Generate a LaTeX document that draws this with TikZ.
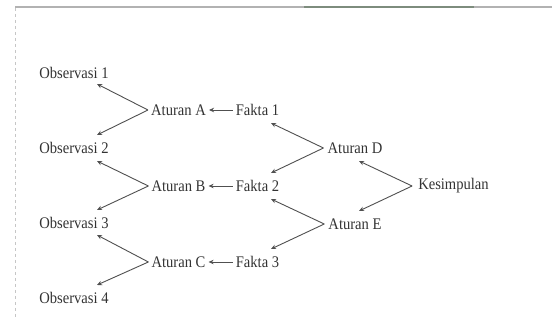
\documentclass[tikz,border=0pt]{standalone}
\usepackage{fontspec}
\setmainfont{Liberation Serif}
\newfontfamily\lblfont[FakeStretch=0.9]{Liberation Serif}
\usetikzlibrary{arrows.meta,calc}
\definecolor{ink}{HTML}{333333}
\definecolor{wire}{HTML}{505050}
\begin{document}
\begin{tikzpicture}[x=1pt,y=-1pt,
  lbl/.style={inner sep=3pt,text=ink,font=\lblfont\fontsize{16.2}{19}\selectfont},
  arr/.style={draw=wire,line width=0.9pt,-{Stealth[length=5pt,width=4.5pt]}}]
\useasboundingbox (0,0) rectangle (552,320);
\fill[white] (0,0) rectangle (552,320);
% screenshot frame
\draw[gray!60,line width=1.6pt] (15,7) -- (552,7);
\draw[color={rgb,255:red,125;green,140;blue,125},line width=1.8pt] (304,7) -- (474,7);
\draw[gray!45,dashed,line width=0.6pt] (15,8) -- (15,320);
% nodes
\node[lbl] (o1) at (74,73) {Observasi 1};
\node[lbl] (o2) at (74,148) {Observasi 2};
\node[lbl] (o3) at (74,223) {Observasi 3};
\node[lbl] (o4) at (74,298) {Observasi 4};
\node[lbl] (ra) at (178.5,110) {Aturan A};
\node[lbl] (rb) at (178.5,186) {Aturan B};
\node[lbl] (rc) at (178.5,262) {Aturan C};
\node[lbl] (f1) at (257.5,110) {Fakta 1};
\node[lbl] (f2) at (257.5,186) {Fakta 2};
\node[lbl] (f3) at (257.5,262) {Fakta 3};
\node[lbl] (rd) at (355,148) {Aturan D};
\node[lbl] (re) at (355,224) {Aturan E};
\node[lbl] (k) at (453.5,186) {Kesimpulan};
% connectors
\draw[arr] ([xshift=-3pt]k.west) -- ($(rd.center)+(4,13)$);
\draw[arr] ([xshift=-3pt]k.west) -- ($(re.center)+(4,-13)$);
\draw[arr] ([xshift=-1pt]rd.west) -- ($(f1.center)+(13.5,13)$);
\draw[arr] ([xshift=-1pt]rd.west) -- ($(f2.center)+(13.5,-13)$);
\draw[arr] ([xshift=-1pt]re.west) -- ($(f2.center)+(13.5,13)$);
\draw[arr] ([xshift=-1pt]re.west) -- ($(f3.center)+(13.5,-13)$);
\draw[arr] (f1.west) -- (ra.east);
\draw[arr] (f2.west) -- (rb.east);
\draw[arr] (f3.west) -- (rc.east);
\draw[arr] (ra.west) -- ($(o1.center)+(23,11)$);
\draw[arr] (ra.west) -- ($(o2.center)+(23,-13)$);
\draw[arr] (rb.west) -- ($(o2.center)+(23,13)$);
\draw[arr] (rb.west) -- ($(o3.center)+(23,-13)$);
\draw[arr] (rc.west) -- ($(o3.center)+(23,12)$);
\draw[arr] (rc.west) -- ($(o4.center)+(23,-13)$);
\end{tikzpicture}
\end{document}
